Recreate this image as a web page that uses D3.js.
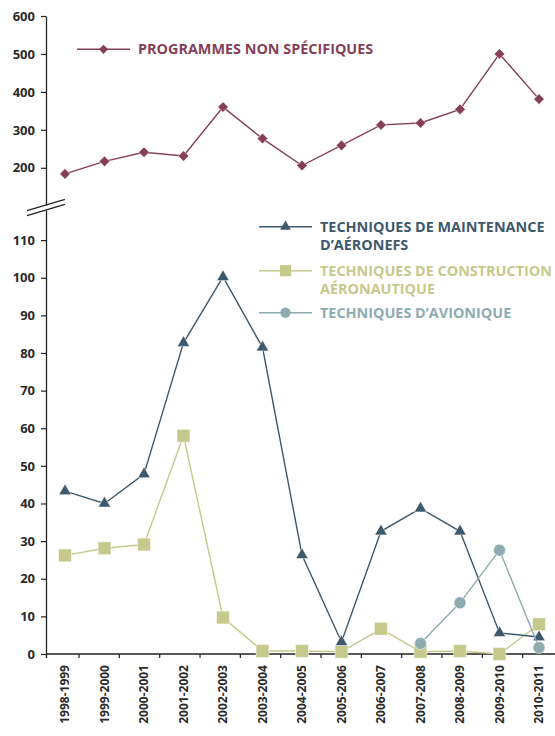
<!DOCTYPE html>
<html>
<head>
<meta charset="utf-8">
<script src="https://cdn.jsdelivr.net/npm/d3@7"></script>
<style>
  body { margin: 0; background: #fff; }
  text { font-family: "Open Sans", Lato, sans-serif; }
</style>
</head>
<body>
<div id="chart"></div>
<script>
// données
const years = ["1998-1999", "1999-2000", "2000-2001", "2001-2002", "2002-2003", "2003-2004",
  "2004-2005", "2005-2006", "2006-2007", "2007-2008", "2008-2009", "2009-2010", "2010-2011"];
const nonSpecifiques = [184, 217, 241, 231, 360, 277, 206, 259, 313, 318, 354, 500, 381];
const maintenance = [43.3, 40, 47.8, 82.7, 100.2, 81.5, 26.3, 3.2, 32.6, 38.7, 32.6, 5.6, 4.5];
const construction = [26.2, 28.1, 29.1, 58, 9.7, 0.8, 0.8, 0.6, 6.7, 0.6, 0.8, 0, 7.9];
const avionique = [null, null, null, null, null, null, null, null, null, 2.8, 13.6, 27.6, 1.7];

const topTicks = [200, 300, 400, 500, 600];
const bottomTicks = [0, 10, 20, 30, 40, 50, 60, 70, 80, 90, 100, 110];

const width = 555;
const height = 736;

const svg = d3.select("#chart")
  .append("svg")
  .attr("width", width)
  .attr("height", height);

// échelles
const x = d3.scalePoint().domain(years).range([65, 539]);
const xTick = d3.scaleBand().domain(years).range([38.7, 563]);
const yTop = d3.scaleLinear().domain([102, 600]).range([205, 16]);
const yBot = d3.scaleLinear().domain([0, 118]).range([654, 210]);

const axisColor = "#222";

function styleAxis(g) {
  g.select(".domain").attr("stroke", axisColor).attr("stroke-width", 1.3);
  g.selectAll(".tick line").attr("stroke", axisColor).attr("stroke-width", 1.2);
  g.selectAll(".tick text")
    .attr("fill", "#2a2a2a")
    .attr("font-size", 13)
    .attr("font-weight", 700)
    .attr("font-family", "'Open Sans', sans-serif");
}

svg.append("g")
  .attr("transform", "translate(46,0)")
  .call(d3.axisLeft(yTop).tickValues(topTicks).tickSize(5).tickSizeOuter(0).tickPadding(6))
  .call(styleAxis);

svg.append("g")
  .attr("transform", "translate(46,0)")
  .call(d3.axisLeft(yBot).tickValues(bottomTicks).tickSize(5).tickSizeOuter(0).tickPadding(6))
  .call(styleAxis);

// prolongement de l'axe sous le zéro
svg.append("line")
  .attr("x1", 46.5).attr("x2", 46.5)
  .attr("y1", yBot(0)).attr("y2", yBot(0) + 4)
  .attr("stroke", axisColor).attr("stroke-width", 1.3);

// axe horizontal
svg.append("line")
  .attr("x1", 46).attr("x2", width)
  .attr("y1", yBot(0)).attr("y2", yBot(0))
  .attr("stroke", axisColor).attr("stroke-width", 1.3);

svg.append("g")
  .selectAll("line")
  .data(years.slice(1))
  .enter().append("line")
  .attr("x1", d => xTick(d)).attr("x2", d => xTick(d))
  .attr("y1", yBot(0)).attr("y2", yBot(0) + 4)
  .attr("stroke", axisColor).attr("stroke-width", 1.2);

svg.append("g")
  .selectAll("text")
  .data(years)
  .enter().append("text")
  .attr("transform", d => `translate(${x(d)},${yBot(0) + 11}) rotate(-90)`)
  .attr("text-anchor", "end")
  .attr("dy", "0.35em")
  .attr("font-size", 12)
  .attr("font-weight", 700)
  .attr("fill", "#2a2a2a")
  .text(d => d);

// coupure de l'axe
const breakY = [yTop.range()[0], yBot.range()[1]];
svg.append("g")
  .selectAll("line")
  .data(breakY)
  .enter().append("line")
  .attr("x1", 27).attr("x2", 65)
  .attr("y1", d => d + 5.6).attr("y2", d => d - 5.6)
  .attr("stroke", axisColor).attr("stroke-width", 1.2);

// séries
const series = [
  { values: construction, scale: yBot, color: "#c6c98c", symbol: d3.symbolSquare, size: 165, rot: 0,
    label: ["TECHNIQUES DE CONSTRUCTION", "AÉRONAUTIQUE"], lx: 259, ly: 270.7 },
  { values: maintenance, scale: yBot, color: "#3e586c", symbol: d3.symbolTriangle, size: 66, rot: 0,
    label: ["TECHNIQUES DE MAINTENANCE", "D’AÉRONEFS"], lx: 259, ly: 226.7 },
  { values: avionique, scale: yBot, color: "#8eacaf", symbol: d3.symbolCircle, size: 113, rot: 0,
    label: ["TECHNIQUES D’AVIONIQUE"], lx: 259, ly: 312.7 },
  { values: nonSpecifiques, scale: yTop, color: "#853f59", symbol: d3.symbolSquare, size: 56, rot: 45,
    label: ["PROGRAMMES NON SPÉCIFIQUES"], lx: 77, ly: 49.3 }
];

series.forEach(s => {
  const pts = s.values.map((v, i) => ({ year: years[i], v: v })).filter(d => d.v != null);

  const line = d3.line()
    .x(d => x(d.year))
    .y(d => s.scale(d.v));

  svg.append("path")
    .datum(pts)
    .attr("fill", "none")
    .attr("stroke", s.color)
    .attr("stroke-width", 1.4)
    .attr("d", line);

  svg.append("g")
    .selectAll("path")
    .data(pts)
    .enter().append("path")
    .attr("transform", d => `translate(${x(d.year)},${s.scale(d.v)}) rotate(${s.rot})`)
    .attr("d", d3.symbol().type(s.symbol).size(s.size))
    .attr("fill", s.color)
    .attr("stroke", "#fff")
    .attr("stroke-width", 0.5);

  // légende
  const lg = svg.append("g").attr("transform", `translate(${s.lx},${s.ly})`);
  lg.append("line")
    .attr("x1", 0).attr("x2", 53)
    .attr("stroke", s.color).attr("stroke-width", 1.4);
  lg.append("path")
    .attr("transform", `translate(26.5,0) rotate(${s.rot})`)
    .attr("d", d3.symbol().type(s.symbol).size(s.size * 0.75))
    .attr("fill", s.color);
  lg.selectAll("text")
    .data(s.label)
    .enter().append("text")
    .attr("x", 61)
    .attr("y", (d, i) => i * 18.5)
    .attr("dy", "0.36em")
    .attr("font-size", 14.4)
    .attr("font-weight", 700)
    .attr("fill", s.color)
    .text(d => d);
});
</script>
</body>
</html>
